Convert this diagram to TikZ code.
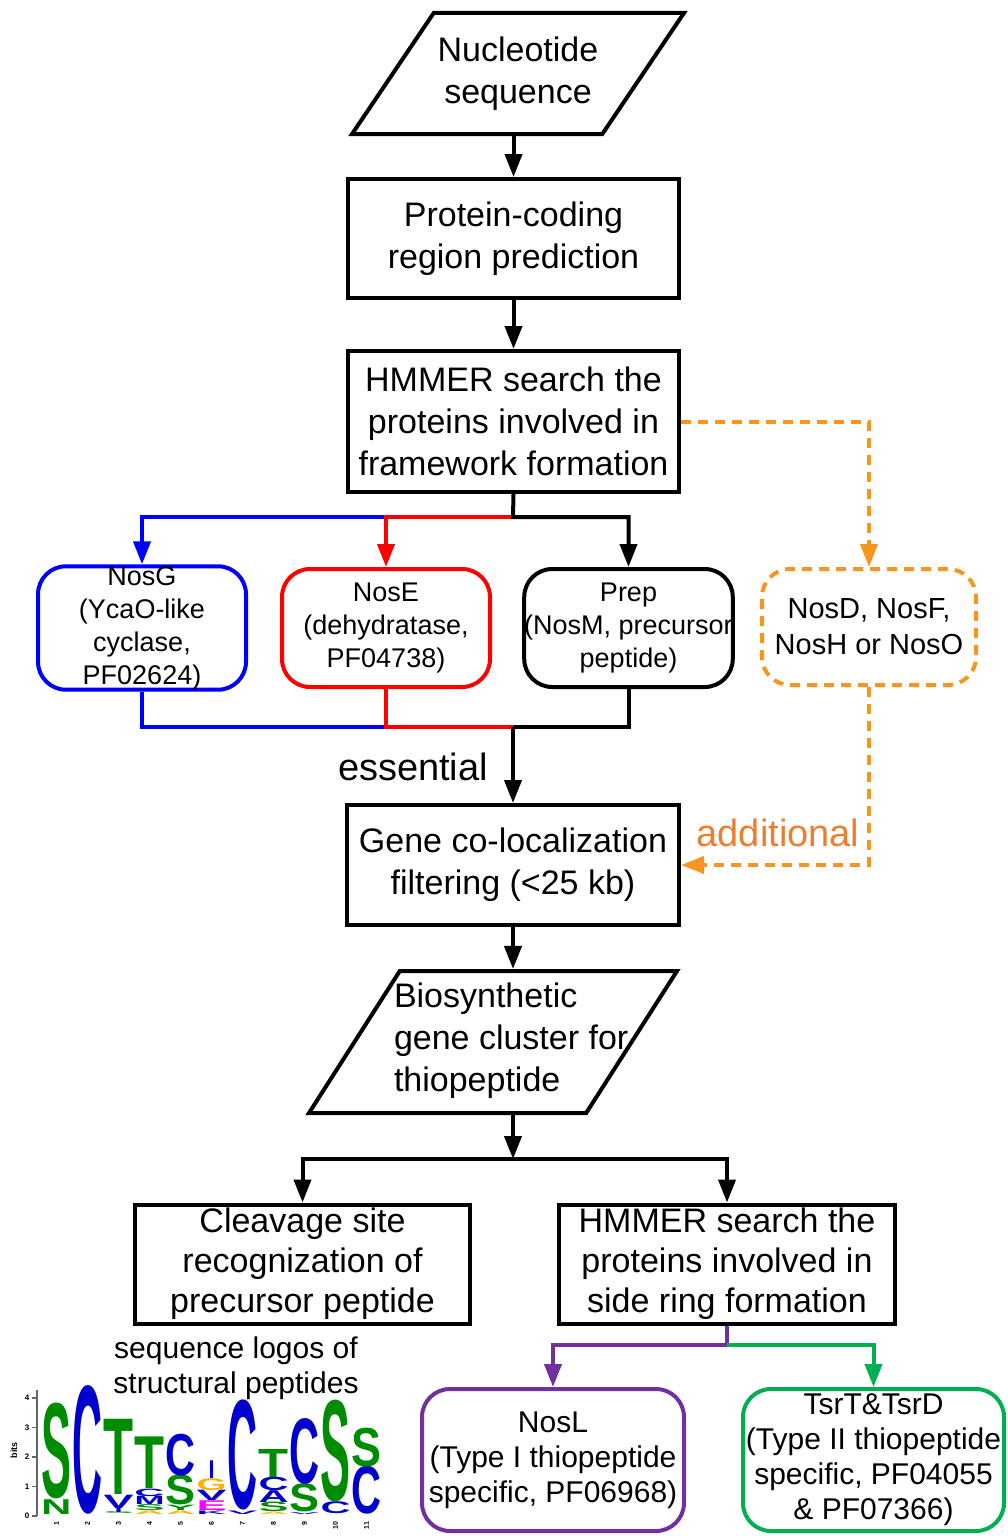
\documentclass[tikz,border=0pt]{standalone}
\usepackage{fontspec}
\setmainfont{Liberation Sans}
\usepackage{tikz}
\usetikzlibrary{arrows.meta,shapes.geometric}

\definecolor{nosgblue}{RGB}{0,0,255}
\definecolor{nosered}{RGB}{255,0,0}
\definecolor{optorange}{RGB}{247,150,30}
\definecolor{addorange}{RGB}{236,126,48}
\definecolor{noslpurple}{RGB}{112,48,160}
\definecolor{tsrgreen}{RGB}{0,176,80}
\definecolor{lgreen}{RGB}{0,140,0}
\definecolor{lblue}{RGB}{0,0,204}
\definecolor{lorange}{RGB}{255,176,0}
\definecolor{lmagenta}{RGB}{255,0,255}

\newcommand{\stepfont}{\fontsize{34pt}{42pt}\selectfont}
\newcommand{\splitfont}{\fontsize{34pt}{40pt}\selectfont}
\newcommand{\genefont}{\fontsize{27pt}{33pt}\selectfont}
\newcommand{\extrafont}{\fontsize{29pt}{36pt}\selectfont}
\newcommand{\ringfont}{\fontsize{30pt}{35pt}\selectfont}
\newcommand{\tagfont}{\fontsize{38pt}{44pt}\selectfont}

\begin{document}
\begin{tikzpicture}[
  x=1pt, y=-1pt,
  line width=4pt,
  >={Triangle[length=23pt,width=17pt]},
  procbox/.style={draw, rectangle, inner sep=0pt, align=center, font=\stepfont},
  parabox/.style={draw, trapezium, trapezium stretches body, inner xsep=0pt,
    align=center, font=\stepfont},
  genebox/.style={draw, rectangle, rounded corners=28pt, inner sep=0pt,
    minimum width=208, minimum height=118, align=center, font=\genefont},
  ringbox/.style={draw, rectangle, rounded corners=28pt, inner sep=0pt,
    minimum width=262, minimum height=142, align=center, font=\ringfont},
  optline/.style={optorange, dash pattern=on 10pt off 7pt},
  tag/.style={inner sep=0pt, font=\tagfont},
]
  \useasboundingbox (0,0) rectangle (1008,1536);

  \node[parabox, inner ysep=23.75pt, minimum width=332, minimum height=121,
    trapezium left angle=56, trapezium right angle=124] (nuc) at (518,73.5) {Nucleotide\\sequence};
  \node[procbox, minimum width=331, minimum height=119] (prot) at (513.5,238.5) {Protein-coding\\region prediction};
  \node[procbox, minimum width=331, minimum height=141] (hmm1) at (513.5,421.5) {HMMER search the\\proteins involved in\\framework formation};

  \node[genebox, nosgblue, text=black] (nosg) at (142,628) {NosG\\(YcaO-like\\cyclase,\\PF02624)};
  \node[genebox, nosered, text=black] (nose) at (386,628) {NosE\\(dehydratase,\\PF04738)};
  \node[genebox] (prep) at (628.5,628) {Prep\\(NosM, precursor\\peptide)};
  \node[genebox, optline, minimum width=214, minimum height=116, text=black, font=\extrafont] (nosd) at (869,627) {NosD, NosF,\\NosH or NosO};

  \node[procbox, minimum width=332, minimum height=120] (gene) at (513,865) {Gene co-localization\\filtering (<25 kb)};

  \node[parabox, inner ysep=0pt, minimum width=368, minimum height=142,
    trapezium left angle=57.4, trapezium right angle=122.6] (bio) at (493,1042) {\rule{0pt}{142pt}};
  \node[inner sep=0pt, align=left, anchor=west, font=\stepfont] (biotext) at (392,1041) {Biosynthetic\\gene cluster for\\thiopeptide};

  \node[procbox, font=\splitfont, minimum width=335, minimum height=119] (cleave) at (302.5,1264) {Cleavage site\\recognization of\\precursor peptide};
  \node[procbox, font=\splitfont, minimum width=336, minimum height=119] (side) at (727,1264) {HMMER search the\\proteins involved in\\side ring formation};

  \node[ringbox, noslpurple, text=black] (nosl) at (553,1460) {NosL\\(Type I thiopeptide\\specific, PF06968)};
  \node[ringbox, tsrgreen, text=black, minimum width=261] (tsrt) at (873.5,1460) {TsrT\&TsrD\\(Type II thiopeptide\\specific, PF04055\\\& PF07366)};

  \node[tag, anchor=east] (ess) at (490,767) {essential};
  \node[tag, text=addorange] (addl) at (778,833) {additional};
  \node[inner sep=0pt, align=center, font=\ringfont] (logotitle) at (236,1368) {sequence logos of\\structural peptides};

  \coordinate (fork1) at (513,517);
  \coordinate (join1) at (513,727);
  \coordinate (fork2) at (513,1159);
  \coordinate (fork3) at (727,1345);

  \draw[->] (prot.north |- nuc.south) -- (prot.north);
  \draw[->] (prot) -- (hmm1);

  \draw[->, nosgblue] (nose.north |- fork1) -| (nosg.north);
  \draw[->, nosered] (fork1) -| (nose.north);
  \draw[->] (hmm1.south) -- (fork1) -| (prep.north);

  \draw[nosgblue] (nosg.south) |- (nose.south |- join1);
  \draw[nosered] (nose.south) |- (join1);
  \draw (prep.south) |- (join1);
  \draw[->] (join1) -- (gene.north);

  \draw[->, optline] (hmm1.east) -| (nosd.north);
  \draw[->, optline] (nosd.south) |- (gene.east);

  \draw[->] (gene.south) -- (gene.south |- bio.north);
  \draw[->] (fork2 |- bio.south) -- (fork2);
  \draw[->] (fork2) -| (cleave.north);
  \draw[->] (fork2) -| (side.north);

  \draw[->, noslpurple] (side.south) -- (fork3) -| (nosl.north);
  \draw[->, tsrgreen] (fork3) -| (tsrt.north);

  % sequence logo
  \draw[line width=1.2pt, black!60] (37,1516) -- (37,1390);
  \foreach \b in {0,...,4}{
    \draw[line width=1.2pt, black!60] (32,{1516-29.5*\b}) -- (37,{1516-29.5*\b});
    \node[inner sep=0pt, font=\fontsize{8pt}{8pt}\selectfont\bfseries] at (27,{1516-29.5*\b}) {\b};
  }
  \node[inner sep=0pt, rotate=90, font=\fontsize{9pt}{9pt}\selectfont\bfseries] (bits) at (14,1450) {bits};
  \foreach \c/\lo/\hi/\l/\col/\w in {
    1/0/0.5/N/lgreen/30, 1/0.5/3.7/S/lgreen/30,
    2/0/4.3/C/lblue/30,
    3/0/0.06/S/lgreen/30, 3/0.06/0.2/I/lblue/8, 3/0.2/0.65/V/lblue/30, 3/0.65/3.2/T/lgreen/30,
    4/0/0.12/A/lorange/30, 4/0.12/0.32/S/lgreen/30, 4/0.32/0.6/M/lblue/30, 4/0.6/0.85/C/lblue/30, 4/0.85/2.6/T/lgreen/30,
    5/0/0.12/A/lorange/30, 5/0.12/0.3/Y/lgreen/30, 5/0.3/1.3/S/lgreen/30, 5/1.3/2.7/C/lblue/30,
    6/0/0.12/K/lblue/30, 6/0.12/0.45/E/lmagenta/30, 6/0.45/0.8/V/lblue/30, 6/0.8/1.2/G/lorange/30, 6/1.2/1.8/I/lblue/6,
    7/0/0.12/V/lblue/30, 7/0.12/3.8/C/lblue/30,
    8/0/0.08/A/lorange/30, 8/0.08/0.4/S/lgreen/30, 8/0.4/0.8/A/lblue/30, 8/0.8/1.25/C/lblue/30, 8/1.25/2.2/T/lgreen/30,
    9/0/0.06/V/lblue/30, 9/0.06/1.0/S/lgreen/30, 9/1.0/3.2/C/lblue/30,
    10/0/0.4/C/lblue/30, 10/0.4/3.8/S/lgreen/30,
    11/0/1.6/C/lblue/30, 11/1.6/2.9/S/lgreen/30}{
    \pgfmathsetmacro\lh{29.5*(\hi-\lo)}
    \node[inner sep=0pt, anchor=south, text=\col] at ({41+31*(\c-0.5)},{1516-29.5*\lo}) {\resizebox{\w pt}{\lh pt}{\bfseries \l}};
  }
  \foreach \c in {1,...,11}{
    \node[inner sep=0pt, rotate=90, anchor=east, font=\fontsize{7pt}{7pt}\selectfont\bfseries] at ({41+31*(\c-0.5)},1520) {\c};
  }
\end{tikzpicture}
\end{document}
